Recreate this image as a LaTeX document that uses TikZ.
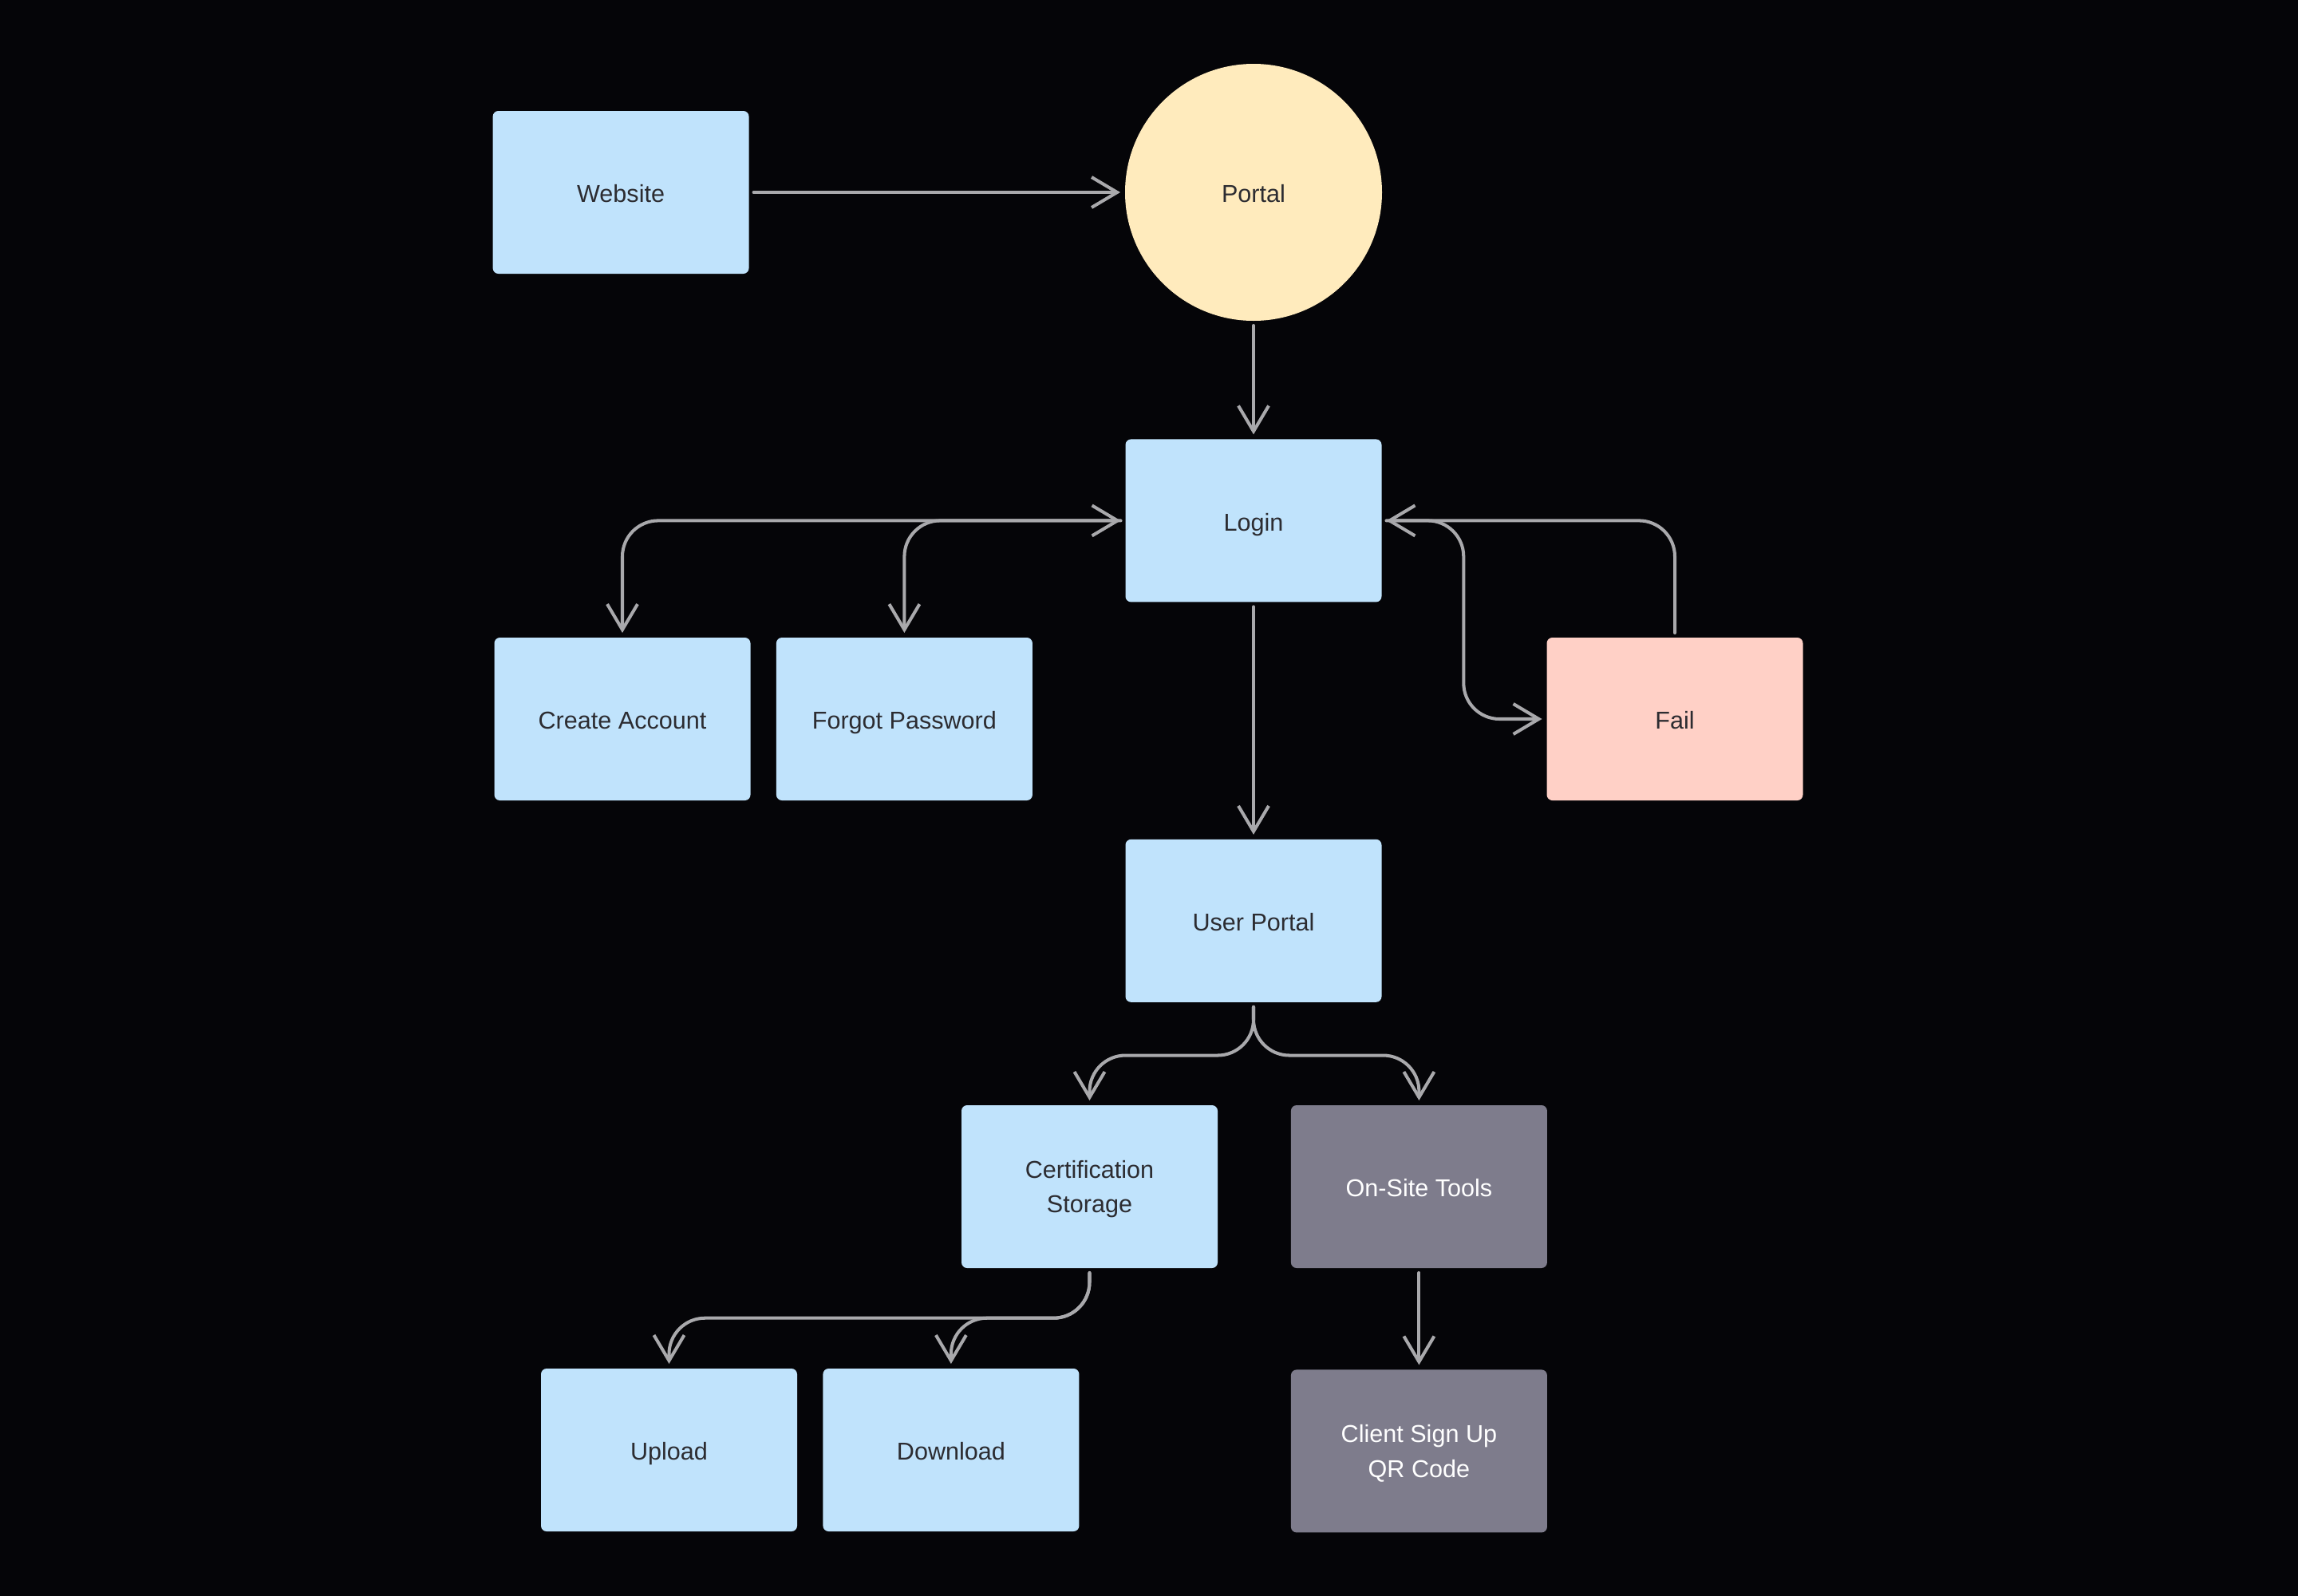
\documentclass[tikz,border=0pt]{standalone}
\usepackage{fontspec}
\setmainfont{Liberation Sans}
\usetikzlibrary{positioning,arrows.meta}

\definecolor{bgdark}{HTML}{050508}
\definecolor{boxblue}{HTML}{C0E3FC}
\definecolor{portalyellow}{HTML}{FFEBBD}
\definecolor{failpink}{HTML}{FFD0C6}
\definecolor{toolgray}{HTML}{7E7C8C}
\definecolor{linkgray}{HTML}{A9A9AC}
\definecolor{textdark}{HTML}{2C2C31}

\tikzset{
    >={Straight Barb[length=3.2mm,width=3.8mm]},
    box/.style={rectangle, rounded corners=2pt, fill=boxblue, text=textdark,
        minimum width=3.21cm, minimum height=2.04cm, inner sep=0pt,
        text height=0.72em, text depth=0pt,
        align=center, font=\fontsize{8.7}{12.5}\selectfont},
    twoline/.style={text height=18.76pt},
    failbox/.style={box, fill=failpink},
    toolbox/.style={box, fill=toolgray, text=white},
    portalcircle/.style={circle, fill=portalyellow, text=textdark,
        minimum size=3.22cm, inner sep=0pt, text height=0.72em, text depth=0pt,
        font=\fontsize{8.7}{12.5}\selectfont},
    link/.style={draw=linkgray, line width=1.15pt, line cap=round,
        rounded corners=4.5mm, shorten >=1.5pt, shorten <=1.5pt},
}

\begin{document}
\begin{tikzpicture}
    \fill[bgdark] (0,0) rectangle (28.8,-20);

    \node [portalcircle] (portal) at (15.71,-2.41) {Portal};
    \node [box, left=4.70cm of portal] (website) {Website};
    \node [box, below=1.47cm of portal] (login) {Login};

    \node [box] (create) at (7.80,-9.01) {Create Account};
    \node [box, right=0.31cm of create] (forgot) {Forgot Password};
    \node [failbox] (fail) at (20.99,-9.01) {Fail};

    \node [box, below=2.96cm of login] (userportal) {User Portal};

    \node [box, twoline] (cert) at (13.655,-14.87) {Certification\\Storage};
    \node [toolbox, right=0.905cm of cert] (tools) {On-Site Tools};

    \node [box] (upload) at (8.385,-18.17) {Upload};
    \node [box, right=0.31cm of upload] (download) {Download};
    \node [toolbox, twoline, below=1.26cm of tools] (qrcode) {Client Sign Up\\QR Code};

    \draw [link, ->] (website) -- (portal);
    \draw [link, ->] (portal) -- (login);

    \draw [link, <->] (login.west) -| (create.north);
    \draw [link, ->] (login.west) -| (forgot.north);
    \draw [link, ->] (fail.north) |- (login.east);
    \draw [link, ->] (login.east) -| ([xshift=-1.035cm]fail.west) -- (fail.west);

    \draw [link, ->] (login) -- (userportal);
    \draw [link, ->] (userportal.south) -- ++(0,-0.66) -| (cert.north);
    \draw [link, ->] (userportal.south) -- ++(0,-0.66) -| (tools.north);

    \draw [link, ->] (cert.south) -- ++(0,-0.62) -| (upload.north);
    \draw [link, ->] (cert.south) -- ++(0,-0.62) -| (download.north);
    \draw [link, ->] (tools) -- (qrcode);
\end{tikzpicture}
\end{document}
